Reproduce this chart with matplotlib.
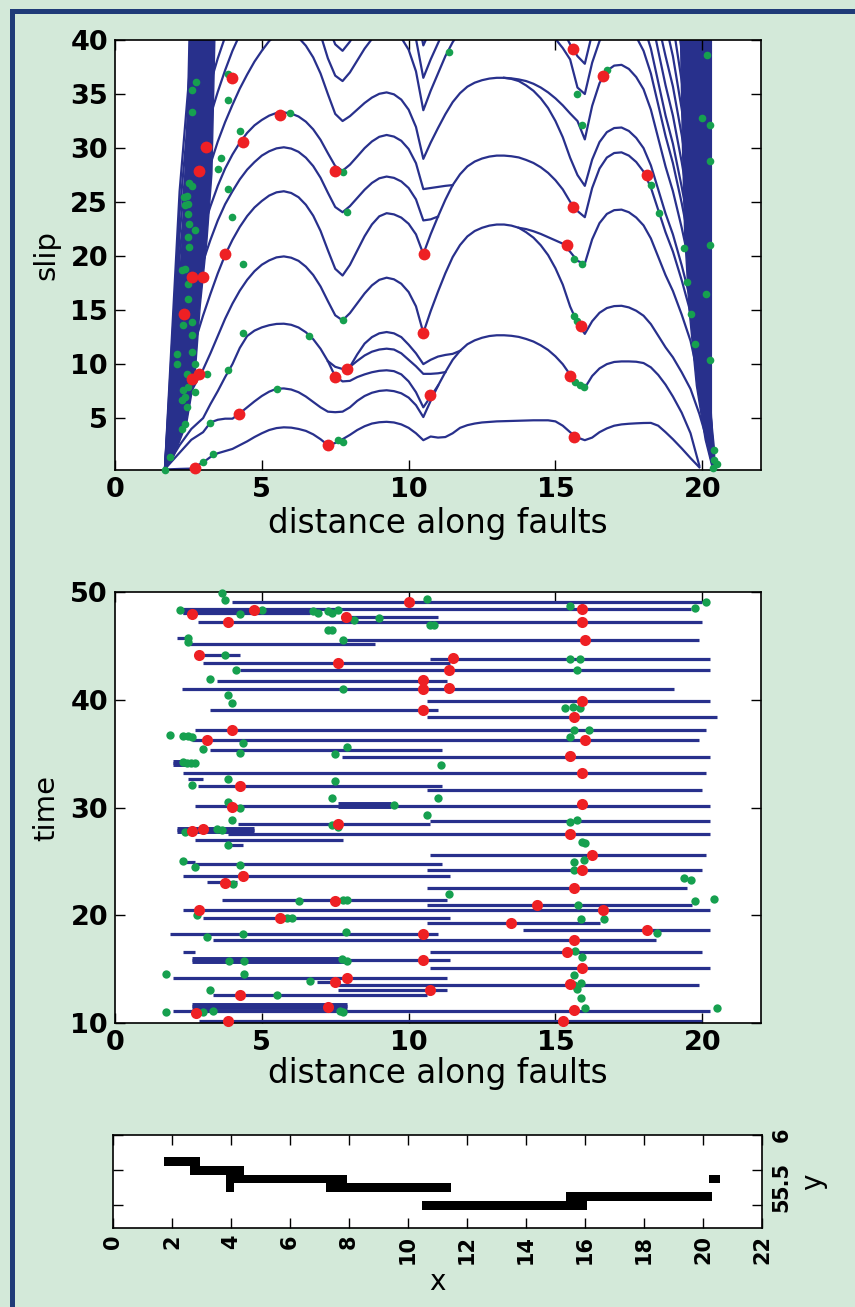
import numpy as np
import matplotlib
matplotlib.use("Agg")
import matplotlib.pyplot as plt
from matplotlib.patches import Rectangle, Polygon

nan = np.nan

# ---------------- top panel: cumulative slip profiles ----------------
slip_grid = ([1.7, 2.2, 2.6] + [3.0 + 0.25 * i for i in range(65)]
             + [19.3, 19.6, 19.9, 20.15, 20.35])

slip_a = [0.25, 0.3, 0.33, 0.9, 1.4, 1.75, 1.95, 2.15, 2.5, 2.85,
          3.25, 3.6, 3.9, 4.08, 4.15, 4.12, 4.0, 3.82, 3.5, 3.05,
          2.5, 2.7, 3.05, 3.45, 3.9, 4.25, 4.5, 4.62, 4.66, 4.6,
          4.42, 4.1, 3.6, 2.96, 3.3, 3.2, 3.25, 3.6, 4.1, 4.35,
          4.5, 4.6, 4.65, 4.7, 4.72, 4.74, 4.76, 4.78, 4.8, 4.8,
          4.8, 4.7, 4.3, 3.7, 3.2, 2.96, 3.2, 3.7, 4.05, 4.3,
          4.42, 4.48, 4.52, 4.55, 4.56, 4.3, 3.7, 3.05, 2.2, 1.3,
          0.45, nan, nan]
slip_b = [0.3, 1.8, 3.0, 3.7, 4.6, 4.85, 4.95, 4.95, 5.45, 6.0,
          6.55, 7.05, 7.45, 7.72, 7.75, 7.65, 7.4, 7.0, 6.5, 6.0,
          5.6, 5.55, 5.6, 6.0, 6.6, 7.05, 7.35, 7.52, 7.58, 7.5,
          7.3, 6.9, 6.2, 5.1, 6.6, 8.0, 9.26, 10.4, 11.23, 11.84,
          12.2, 12.44, 12.6, 12.67, 12.67, 12.62, 12.52, 12.33, 12.09, 11.74,
          11.31, 10.72, 9.99, 9.02, 8.3, 7.8, 8.9, 9.6, 10.0, 10.2,
          10.25, 10.25, 10.22, 10.1, 9.7, 9.0, 8.1, 7.0, 5.5, 3.6,
          0.6, nan, nan]
slip_c1 = ([0.3, 2.5, 4.0, 5.0, 6.3, 7.5, 8.8, 10.0, 11.5, 12.6,
            13.1, 13.4, 13.6, 13.72, 13.74, 13.64, 13.39, 12.95, 12.31, 11.42,
            10.28, 8.85, 8.4, 8.45, 8.8, 9.05, 9.25, 9.38, 9.43, 9.35,
            9.05, 8.4, 7.4, 6.0, 7.0, 8.0] + [nan] * 37)
slip_c2 = ([nan] * 20 + [10.28, 9.75, 9.55, 9.75, 10.3, 10.8, 11.15, 11.35, 11.43, 11.35,
                         11.0, 10.4, 9.8, 9.1, 9.1, 9.15, 9.26] + [nan] * 36)
slip_c3 = ([nan] * 23 + [9.75, 10.9, 11.9, 12.5, 12.85, 12.97, 12.85,
                         12.5, 11.8, 11.0, 10.0, 10.4, 10.7, 10.85, 10.95, 11.23] + [nan] * 34)
slip_d = [0.3, 4.0, 7.5, 9.5, 11.0, 12.6, 14.2, 15.6, 16.8, 17.8,
          18.6, 19.2, 19.6, 19.88, 19.97, 19.85, 19.56, 19.02, 18.25, 17.19,
          15.83, 14.52, 14.05, 14.72, 15.63, 16.54, 17.29, 17.8, 18.0, 17.85,
          17.44, 16.67, 15.35, 12.9, 14.9, 16.71, 18.41, 19.91, 21.02, 21.82,
          22.32, 22.62, 22.82, 22.92, 22.92, 22.82, 22.62, 22.21, 21.71, 21.0,
          20.09, 18.87, 17.35, 15.33, 13.81, 12.8, 13.97, 14.75, 15.19, 15.37,
          15.4, 15.25, 14.94, 14.48, 13.7, 12.63, 11.55, 10.63, 9.24, 7.7,
          5.4, 3.1, 0.6]
slip_d2 = ([nan] * 46 + [22.62, 22.5, 22.3, 22.05,
                         21.75, 21.45, 21.15, 20.4, 19.55, 19.3, 21.55, 23.05, 23.9, 24.25,
                         24.3, 24.06, 23.57, 22.84, 21.63, 19.93, 18.23, 16.77, 14.58, 12.15,
                         8.5, 4.86, 0.97])
slip_e = [0.3, 6.0, 11.0, 14.5, 16.5, 18.4, 20.1, 21.5, 22.7, 23.7,
          24.5, 25.1, 25.6, 25.9, 26.0, 25.84, 25.45, 24.75, 23.74, 22.33,
          20.54, 18.82, 18.2, 19.18, 20.51, 21.84, 22.93, 23.68, 23.97, 23.86,
          23.56, 22.99, 22.01, 20.2, 22.02, 23.66, 25.21, 26.57, 27.57, 28.3,
          28.75, 29.03, 29.21, 29.3, 29.3, 29.24, 29.13, 28.9, 28.62, 28.22,
          27.7, 27.02, 26.17, 25.03, 24.17, 23.6, 26.3, 28.1, 29.12, 29.54,
          29.6, 29.3, 28.71, 27.82, 26.34, 24.27, 22.2, 20.42, 17.76, 14.8,
          10.36, 5.92, 1.18]
slip_f = ([0.3, 8.0, 14.0, 19.5, 21.5, 23.3, 24.8, 26.0, 27.1, 28.0,
           28.7, 29.3, 29.7, 29.97, 30.07, 29.95, 29.65, 29.11, 28.33, 27.25,
           25.86, 24.54, 24.06, 24.62, 25.38, 26.14, 26.77, 27.2, 27.36, 27.24,
           26.91, 26.3, 25.25, 23.3, 23.4, 23.66] + [nan] * 37)
slip_g = ([0.3, 10.0, 17.0, 22.5, 24.6, 26.5, 28.1, 29.4, 30.5, 31.4,
           32.1, 32.6, 33.0, 33.25, 33.3, 33.19, 32.92, 32.44, 31.73, 30.76,
           29.52, 28.33, 27.9, 28.46, 29.22, 29.99, 30.61, 31.04, 31.21, 31.06,
           30.67, 29.91, 28.6, 26.2, 26.3, 26.4, 26.5, 26.57] + [nan] * 35)
slip_h = [0.3, 12.0, 20.0, 26.0, 28.5, 30.6, 32.4, 34.0, 35.5, 36.8,
          38.0, 39.0, 39.9, 40.5, 40.8, 40.63, 40.22, 39.47, 38.39, 36.9,
          34.99, 33.16, 32.5, 32.95, 33.56, 34.17, 34.67, 35.02, 35.15, 34.97,
          34.48, 33.55, 31.95, 29.0, 30.5, 31.85, 33.13, 34.25, 35.08, 35.68,
          36.05, 36.28, 36.43, 36.5, 36.5, 36.45, 36.35, 36.2, 35.95, 35.6,
          35.15, 34.6, 33.95, 33.2, 32.5, 30.8, 33.9, 36.0, 37.15, 37.63,
          37.7, 37.32, 36.57, 35.44, 33.55, 30.91, 28.28, 26.01, 22.62, 18.85,
          13.2, 7.54, 1.5]
slip_h2 = ([nan] * 44 + [36.5, 36.4, 36.2, 35.8, 35.3, 34.6,
                         33.7, 32.5, 31.0, 29.1, 27.5, 26.5, 28.93, 30.55, 31.47, 31.85,
                         31.9, 31.58, 30.94, 29.99, 28.39, 26.16, 23.93, 22.01, 19.14, 15.95,
                         11.17, 6.38, 1.28])
slip_i = [0.3, 14.0, 23.0, 30.5, 33.0, 35.2, 37.2, 39.0, 40.5, 42.0,
          43.0, 44.0, 44.5, 44.5, 44.5, 44.5, 44.0, 43.5, 42.5, 40.5,
          38.3, 36.7, 36.2, 37.0, 38.1, 39.2, 40.1, 40.8, 41.0, 40.8,
          40.2, 39.1, 37.1, 33.5, 35.3, 36.9, 38.5, 39.8, 40.8, 41.5,
          41.96, 42.23, 42.41, 42.5, 42.5, 42.45, 42.3, 42.1, 41.8, 41.35,
          40.8, 40.1, 39.25, 38.2, 35.6, 35.0, 37.9, 39.9, 41.0, 41.45,
          41.5, 41.1, 40.3, 39.0, 36.9, 34.0, 31.1, 28.6, 24.9, 20.75,
          14.5, 8.3, 1.7]
slip_j = [0.3, 16.0, 26.0, 33.5, 36.0, 38.3, 40.3, 42.0, 43.5, 45.0,
          46.0, 47.0, 47.5, 47.5, 47.5, 47.0, 46.5, 46.0, 45.0, 43.5,
          41.3, 39.6, 39.0, 39.85, 41.0, 42.15, 43.1, 43.75, 44.0, 43.8,
          43.2, 42.1, 40.1, 36.5, 38.2, 39.7, 41.2, 42.45, 43.3, 44.0,
          44.4, 44.7, 44.9, 45.0, 45.0, 44.9, 44.8, 44.5, 44.1, 43.6,
          42.9, 42.0, 40.9, 39.6, 38.5, 37.8, 40.6, 42.45, 43.5, 43.95,
          44.0, 43.6, 42.7, 41.4, 39.2, 36.1, 33.0, 30.4, 26.4, 22.0,
          15.4, 8.8, 1.8]
slip_k = ([0.3, 18.0, 29.0, 36.5, 39.0, 41.3, 43.3] + [nan] * 24
          + [45.0, 43.0, 39.5, 41.0, 42.5, 44.0] + [nan] * 25
          + [46.0, 44.6, 42.3, 39.0, 35.8, 33.0, 28.7, 23.9, 16.7, 9.6, 1.9])
slip_l = [0.3, 20.0, 31.0, 38.5, 41.5] + [nan] * 58 + [47.0, 44.5, 41.5, 38.5, 35.7, 31.2, 26.0, 18.2, 10.4, 2.1]
slip_m = [0.3, 22.0, 33.5, 41.0] + [nan] * 61 + [45.0, 41.5, 38.5, 33.6, 28.0, 19.6, 11.2, 2.2]
slip_n = [0.3, 24.0, 36.0, 44.0] + [nan] * 62 + [45.0, 41.5, 36.2, 30.2, 21.1, 12.0, 2.4]
slip_o = [0.3, 26.0, 39.0, 47.0] + [nan] * 63 + [45.0, 39.0, 32.5, 22.7, 13.0, 2.5]

# dense bundles of profiles at both fault ends (outline)
left_fan_x = [1.72, 1.85, 1.99, 2.16, 2.3, 2.39, 2.47, 2.52, 3.4, 3.3, 3.13, 2.9, 2.73, 2.44, 1.99]
left_fan_y = [0.3, 2.5, 6.0, 15.3, 22.0, 27.6, 34.0, 40.0, 40.0, 27.6, 21.4, 15.3, 9.1, 4.5, 1.4]
right_fan_x = [19.26, 19.32, 19.4, 19.55, 19.8, 20.1, 20.35, 20.42, 20.42, 20.31, 20.31]
right_fan_y = [40.0, 30.7, 22.0, 15.0, 8.0, 3.0, 0.3, 0.3, 2.0, 5.0, 40.0]

slip_red_x = [2.73, 4.22, 7.25, 7.5, 7.9, 10.74, 10.5, 10.51, 3.98, 4.35, 3.1, 2.87, 3.75, 2.61, 2.99, 2.36,
              2.61, 2.87, 5.62, 7.5, 15.6, 16.63, 18.13, 15.6, 15.38, 15.87, 15.51, 15.63]
slip_red_y = [0.35, 5.4, 2.5, 8.8, 9.58, 7.1, 12.9, 20.2, 36.5, 30.6, 30.07, 27.9, 20.2, 18.1, 18.06, 14.6,
              8.66, 9.12, 33.1, 27.9, 39.16, 36.7, 27.55, 24.5, 21.0, 13.5, 8.88, 3.27]
slip_green_x = [2.61, 2.76, 2.61, 3.86, 3.86, 4.26, 3.61, 3.5, 3.86, 3.98, 4.37, 4.37, 3.86, 3.24, 3.01, 3.35,
                1.88, 1.7, 7.76, 7.6, 5.51, 6.62, 7.78, 7.9, 5.97, 7.78, 2.53, 2.61, 2.36, 2.44, 2.5, 2.4,
                2.5, 2.53, 2.73, 2.5, 2.53, 2.27, 2.39, 2.5, 2.5, 2.61, 2.33, 2.61, 2.1, 2.61, 2.1, 2.73,
                2.44, 2.33, 2.5, 2.73, 2.39, 2.27, 2.44, 2.39, 2.27, 3.12, 20.15, 20.0, 20.26, 20.26, 19.38,
                20.26, 19.49, 20.11, 19.63, 19.74, 20.26, 20.4, 20.4, 20.51, 20.38, 16.76, 15.74, 15.89,
                18.24, 18.52, 15.63, 15.89, 15.63, 15.74, 15.68, 15.85, 15.97, 11.39]
slip_green_y = [35.37, 36.08, 33.3, 36.85, 34.45, 31.55, 29.08, 28.07, 26.22, 23.6, 19.23, 12.88, 9.43, 4.56,
                0.96, 1.64, 1.42, 0.19, 2.81, 3.0, 7.74, 12.57, 14.05, 24.06, 33.2, 27.76, 26.8, 26.5, 25.45,
                25.6, 24.8, 24.7, 23.9, 23.0, 22.4, 21.75, 20.83, 18.67, 18.83, 17.44, 16.05, 13.9, 13.6,
                12.67, 10.97, 11.13, 10.05, 10.05, 9.12, 7.58, 7.9, 7.43, 6.97, 6.66, 6.04, 4.5, 4.04, 9.12,
                38.64, 32.78, 32.17, 28.84, 20.77, 20.98, 17.6, 16.52, 14.67, 11.84, 10.36, 2.04, 1.11, 0.74,
                0.34, 37.22, 35.0, 32.17, 26.62, 24.0, 19.75, 19.29, 14.42, 13.99, 8.35, 8.04, 7.89, 38.85]

# ---------------- middle panel: rupture extent of each event ----------------
ev_t = [49.15, 48.45, 48.1, 47.75, 47.3, 45.8, 45.55, 45.18, 44.19, 43.85, 43.41, 42.79, 41.8, 41.05, 39.95,
        39.06, 38.45, 37.21, 36.28, 35.41, 34.75, 34.2, 33.25, 32.7, 32.02, 31.63, 30.17, 28.53, 28.77, 27.91,
        27.6, 26.98, 26.58, 25.58, 24.96, 24.74, 24.19, 23.64, 23.08, 22.54, 21.4, 21.0, 20.47, 19.75, 19.3,
        18.67, 18.3, 17.75, 16.62, 16.59, 15.9, 15.1, 14.15, 13.8, 13.55, 13.03, 12.62, 11.57, 11.15, 10.22]
ev_x0 = [3.98, 2.33, 2.33, 7.7, 2.84, 2.1, 7.7, 2.56, 2.9, 10.74, 3.01, 4.26, 3.47, 2.27, 10.63, 3.24, 10.63,
         2.73, 2.61, 3.24, 7.73, 1.99, 2.33, 2.5, 2.84, 10.63, 2.73, 4.2, 10.74, 2.1, 3.86, 2.73, 3.86, 10.74,
         2.33, 2.73, 10.63, 2.33, 3.13, 10.63, 3.64, 10.63, 2.33, 3.01, 10.63, 13.9, 1.87, 3.35, 2.33, 10.74,
         2.61, 10.74, 1.99, 6.87, 7.61, 7.61, 3.35, 2.61, 1.99, 2.86]
ev_x1 = [20.0, 19.6, 6.65, 11.0, 20.0, 2.56, 19.89, 8.86, 4.26, 20.26, 11.42, 20.26, 11.3, 19.03, 20.26, 11.0,
         20.51, 20.11, 19.89, 11.14, 20.26, 2.67, 20.11, 3.0, 11.14, 20.0, 20.26, 10.74, 20.26, 4.72, 20.26, 7.78,
         4.37, 20.11, 2.73, 11.14, 20.0, 11.42, 4.15, 19.49, 11.3, 19.66, 20.26, 11.42, 16.53, 20.26, 11.0, 18.41,
         2.73, 20.0, 11.42, 20.26, 11.3, 7.44, 19.89, 11.3, 10.63, 7.9, 20.28, 20.0]
thick_t = [48.27, 34.2, 30.25, 27.91, 15.9, 11.57]
thick_x0 = [2.33, 1.99, 7.6, 2.1, 2.61, 2.61]
thick_x1 = [6.65, 2.67, 9.4, 4.72, 7.8, 7.9]

ev_red_x = [10.0, 2.61, 4.74, 7.86, 15.89, 3.86, 15.89, 16.0, 2.86, 11.5, 7.61, 11.39, 10.49, 10.49, 11.39,
            15.89, 10.49, 15.63, 4.0, 3.13, 16.0, 15.51, 15.89, 4.24, 4.0, 15.89, 7.61, 2.61, 2.99, 15.51,
            16.25, 15.89, 4.37, 3.75, 15.63, 7.5, 14.38, 2.86, 16.63, 5.62, 13.5, 18.13, 10.49, 15.63, 15.4,
            10.49, 15.89, 7.9, 7.5, 15.51, 10.74, 4.24, 7.27, 2.75, 15.63, 3.86, 15.26]
ev_red_t = [49.15, 48.0, 48.37, 47.75, 48.43, 47.28, 47.28, 45.58, 44.18, 43.87, 43.41, 42.79, 41.86, 41.08,
            41.17, 39.93, 39.07, 38.45, 37.2, 36.27, 36.27, 34.79, 33.27, 32.0, 30.08, 30.32, 28.52, 27.84,
            28.06, 27.6, 25.58, 24.18, 23.62, 23.04, 22.54, 21.33, 20.99, 20.46, 20.46, 19.75, 19.28, 18.66,
            18.29, 17.73, 16.59, 15.87, 15.13, 14.2, 13.8, 13.58, 13.02, 12.62, 11.53, 10.91, 11.22, 10.14, 10.23]
ev_green_x = [3.64, 3.75, 10.63, 20.14, 2.2, 4.26, 5.0, 6.76, 6.9, 7.27, 7.39, 7.6, 8.13, 8.98, 10.74, 10.85,
              15.51, 19.75, 7.27, 7.39, 2.5, 2.5, 7.76, 3.75, 4.12, 3.24, 7.76, 3.86, 3.98, 15.51, 15.85, 15.74,
              15.34, 15.6, 15.85, 15.63, 16.14, 15.51, 1.87, 2.33, 2.5, 2.61, 4.37, 4.24, 3.01, 7.9, 7.5, 11.1,
              2.3, 2.45, 2.6, 2.73, 2.61, 3.86, 7.5, 11.0, 9.49, 10.63, 7.39, 3.86, 4.26, 3.98, 15.51, 15.74,
              15.91, 16.0, 7.39, 7.6, 2.38, 3.47, 3.64, 3.86, 2.33, 2.73, 4.24, 4.32, 4.03, 15.63, 15.97, 15.63,
              19.38, 19.6, 19.75, 20.4, 6.25, 7.78, 7.9, 11.39, 15.77, 15.88, 16.65, 2.78, 5.85, 6.02, 18.47,
              3.13, 4.37, 7.87, 15.66, 15.91, 15.63, 15.88, 3.89, 4.41, 7.73, 7.9, 1.74, 4.41, 6.65, 3.24, 5.51,
              15.63, 15.74, 15.88, 16.0, 20.51, 1.74, 2.99, 3.35, 7.67, 7.78]
ev_green_t = [49.92, 49.3, 49.36, 49.14, 48.37, 47.97, 48.37, 48.3, 48.1, 48.3, 48.1, 48.37, 47.45, 47.6, 46.98,
              46.98, 48.74, 48.6, 46.5, 46.5, 45.8, 45.4, 45.58, 44.19, 42.79, 41.96, 41.0, 40.47, 39.69, 43.8,
              43.8, 42.79, 39.3, 39.4, 39.3, 37.2, 37.2, 36.6, 36.8, 36.7, 36.7, 36.6, 35.97, 35.1, 35.5, 35.6,
              34.95, 33.96, 34.25, 34.2, 34.15, 34.2, 32.1, 32.7, 32.47, 30.92, 30.23, 29.3, 30.92, 30.55, 30.0,
              28.84, 28.7, 28.9, 26.8, 26.75, 28.44, 28.2, 27.75, 28.06, 27.9, 26.58, 25.02, 24.5, 24.65, 23.73,
              22.95, 25.0, 25.1, 24.2, 23.5, 23.3, 21.3, 21.55, 21.3, 21.4, 21.4, 22.0, 20.94, 19.7, 19.7, 20.0,
              19.75, 19.75, 18.36, 17.99, 18.3, 18.45, 16.65, 16.13, 14.42, 13.74, 15.72, 15.72, 15.91, 15.72,
              14.58, 14.58, 13.86, 13.09, 12.62, 13.5, 13.2, 12.3, 11.38, 11.41, 11.01, 11.01, 11.1, 11.07, 11.0]

# ---------------- bottom panel: fault segments in map view ----------------
fault_x0 = [1.72, 2.61, 3.83, 3.83, 7.23, 10.48, 15.35, 20.2]
fault_x1 = [2.94, 4.44, 7.93, 4.09, 11.45, 16.07, 20.31, 20.58]
fault_y = [5.625, 5.5, 5.375, 5.25, 5.25, 5.0, 5.125, 5.375]

bg = "#d3e9d9"
blue = "#28308c"
red = "#ee2024"
green = "#16a04f"
frame = "#1f3b78"
plt.rcParams["font.family"] = ["DejaVu Sans"]
plt.rcParams["font.weight"] = "bold"

fig = plt.figure(figsize=(8.55, 13.07), dpi=100, facecolor=bg)
W, H = 855.0, 1307.0


def box(left, top, right, bottom):
    return [left / W, 1 - bottom / H, (right - left) / W, (bottom - top) / H]


def matlab_style(ax, size):
    ax.tick_params(direction="in", top=True, right=True, length=7, width=1, labelsize=size, pad=5)
    for s in ax.spines.values():
        s.set_linewidth(1.2)


# top panel
ax1 = fig.add_axes(box(115, 40, 761, 470))
profiles = [slip_a, slip_b, slip_c1, slip_c2, slip_c3, slip_d, slip_d2, slip_e, slip_f, slip_g,
            slip_h, slip_h2, slip_i, slip_j, slip_k, slip_l, slip_m, slip_n, slip_o]
ax1.add_patch(Polygon(list(zip(left_fan_x, left_fan_y)), closed=True, fc=blue, ec=blue, lw=1))
ax1.add_patch(Polygon(list(zip(right_fan_x, right_fan_y)), closed=True, fc=blue, ec=blue, lw=1))
for p in profiles:
    ax1.plot(slip_grid, p, color=blue, lw=1.6)
ax1.plot(slip_green_x, slip_green_y, "o", color=green, ms=5.5, mew=0, clip_on=False, zorder=4)
ax1.plot(slip_red_x, slip_red_y, "o", color=red, ms=8.5, mew=0, clip_on=False, zorder=5)
ax1.set_xlim(0, 22)
ax1.set_ylim(0.2, 40)
ax1.set_xticks([0, 5, 10, 15, 20])
ax1.set_yticks([5, 10, 15, 20, 25, 30, 35, 40])
matlab_style(ax1, 19.5)
ax1.set_xlabel("distance along faults", fontsize=23.5, fontweight="normal", labelpad=3)
ax1.set_ylabel("slip", fontsize=21, fontweight="normal", labelpad=7)

# middle panel
ax2 = fig.add_axes(box(115, 592.5, 761, 1023))
ax2.hlines(ev_t, ev_x0, ev_x1, color=blue, lw=2.3)
ax2.hlines(thick_t, thick_x0, thick_x1, color=blue, lw=5)
ax2.plot(ev_green_x, ev_green_t, "o", color=green, ms=6, mew=0, clip_on=False, zorder=4)
ax2.plot(ev_red_x, ev_red_t, "o", color=red, ms=8, mew=0, clip_on=False, zorder=5)
ax2.set_xlim(0, 22)
ax2.set_ylim(10, 50)
ax2.set_xticks([0, 5, 10, 15, 20])
ax2.set_yticks([10, 20, 30, 40, 50])
matlab_style(ax2, 19.5)
ax2.set_xlabel("distance along faults", fontsize=23.5, fontweight="normal", labelpad=1)
ax2.set_ylabel("time", fontsize=21, fontweight="normal", labelpad=7)

# bottom panel
ax3 = fig.add_axes(box(113, 1135, 762, 1228))
ax3.barh(fault_y, np.array(fault_x1) - np.array(fault_x0), left=fault_x0, height=0.125, color="black")
ax3.set_xlim(0, 22)
ax3.set_ylim(4.68, 6.0)
ax3.set_xticks(range(0, 23, 2))
ax3.set_yticks([5, 5.5, 6])
ax3.set_yticklabels(["5", "5.5", "6"])
matlab_style(ax3, 15)
ax3.tick_params(axis="x", labelrotation=90)
ax3.tick_params(axis="y", labelleft=False, labelright=True, labelrotation=90, pad=7)
ax3.yaxis.set_label_position("right")
ax3.set_ylabel("y", fontsize=20, rotation=90, labelpad=5)
ax3.set_xlabel("x", fontsize=20, labelpad=3)

# poster frame
fig.add_artist(Rectangle((12 / W, -0.1), 1.2, 1.1 - 10.5 / H, transform=fig.transFigure,
                         fill=False, ec=frame, lw=3.6))

fig.savefig("out.png", dpi=100, facecolor=bg)
